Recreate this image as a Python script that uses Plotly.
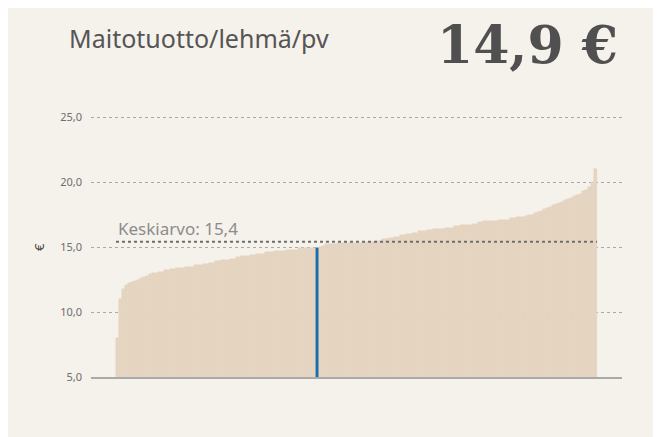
import plotly.graph_objects as go

# maitotuotto / lehmä / päivä, tilat lajiteltuna (€)
values = [
    8.0, 11.0, 11.8, 12.1, 12.2, 12.3, 12.4, 12.5, 12.6, 12.7,
    12.8, 12.9, 13.0, 13.0, 13.1, 13.1, 13.2, 13.2, 13.3, 13.3,
    13.4, 13.4, 13.4, 13.5, 13.5, 13.5, 13.6, 13.6, 13.6, 13.7,
    13.7, 13.8, 13.8, 13.9, 13.9, 14.0, 14.0, 14.0, 14.1, 14.1,
    14.2, 14.2, 14.3, 14.3, 14.3, 14.4, 14.4, 14.5, 14.5, 14.5,
    14.6, 14.6, 14.6, 14.7, 14.7, 14.7, 14.7, 14.8, 14.8, 14.8,
    14.8, 14.9, 14.9, 14.9, 14.9, 14.9, 14.9, 14.9, 15.0, 15.1,
    15.2, 15.2, 15.2, 15.2, 15.3, 15.3, 15.3, 15.3, 15.3, 15.3,
    15.3, 15.3, 15.3, 15.4, 15.4, 15.4, 15.4, 15.5, 15.5, 15.6,
    15.6, 15.7, 15.7, 15.8, 15.8, 15.9, 15.9, 16.0, 16.0, 16.1,
    16.1, 16.2, 16.2, 16.2, 16.3, 16.3, 16.4, 16.4, 16.4, 16.4,
    16.5, 16.5, 16.5, 16.6, 16.6, 16.7, 16.7, 16.7, 16.7, 16.8,
    16.8, 16.9, 16.9, 17.0, 17.0, 17.0, 17.0, 17.0, 17.1, 17.1,
    17.1, 17.1, 17.2, 17.2, 17.3, 17.3, 17.3, 17.4, 17.5, 17.5,
    17.6, 17.7, 17.8, 17.9, 18.0, 18.1, 18.2, 18.3, 18.4, 18.5,
    18.6, 18.7, 18.8, 18.9, 19.0, 19.1, 19.3, 19.4, 19.6, 20.0,
    21.0,
]
own_index = 67          # oma tila
own_value = 14.9
mean_value = 15.4
y_ticks = [5, 10, 15, 20, 25]
y_ticktext = ['5,0', '10,0', '15,0', '20,0', '25,0']

BG = '#f5f1eb'
BAR = '#e4d4c0'
BLUE = '#1b6cab'
GREY = '#6e6e6e'

W, H = 661, 437
L, R, T, B = 83, 47, 96, 68
PW = W - L - R
PH = H - T - B


def px(x):
    return (x - L) / PW


def py(y):
    return 1 - (y - T) / PH


n = len(values)
pad = 25 / 481 * n
colors = [BLUE if i == own_index else BAR for i in range(n)]

fig = go.Figure()
fig.add_trace(go.Bar(
    x=list(range(n)), y=values, marker_color=colors,
    marker_line_color=colors, marker_line_width=0.4,
    hoverinfo='skip',
))

fig.add_shape(type='line', xref='x', yref='y',
              x0=-0.5, x1=n - 0.5, y0=mean_value, y1=mean_value,
              line=dict(color='#6f6f6f', width=2, dash='dot'))

fig.add_annotation(xref='x', yref='y', x=-0.5, y=mean_value,
                   text=f'Keskiarvo: {mean_value:.1f}'.replace('.', ','),
                   showarrow=False, xanchor='left', yanchor='bottom', yshift=0,
                   font=dict(family='Noto Sans', size=17, color='#8c8c8c'))

fig.add_annotation(xref='paper', yref='y', x=px(20), y=15,
                   text='€', textangle=-90, showarrow=False,
                   font=dict(family='Noto Sans', size=13, color='#444'))

fig.add_annotation(xref='paper', yref='paper', x=px(59), y=py(30),
                   text='Maitotuotto/lehmä/pv', showarrow=False,
                   xanchor='left', yanchor='middle',
                   font=dict(family='Noto Sans', size=25, color='#555555'))

fig.add_annotation(xref='paper', yref='paper', x=px(612), y=py(37),
                   text=f'<b>{own_value:.1f} €</b>'.replace('.', ','),
                   showarrow=False, xanchor='right', yanchor='middle',
                   font=dict(family='DejaVu Serif', size=52, color='#505050'))

fig.update_layout(
    width=W, height=H,
    margin=dict(l=L, r=R, t=T, b=B),
    paper_bgcolor=BG, plot_bgcolor=BG,
    bargap=0, showlegend=False,
    xaxis=dict(range=[-0.5 - pad, n - 0.5 + pad], showgrid=False,
               showticklabels=False, zeroline=False,
               showline=True, linecolor='#aaaaaa', linewidth=2),
    yaxis=dict(range=[5, 26], tickvals=y_ticks, ticktext=y_ticktext,
               showgrid=True, gridcolor='#a9a9a9', gridwidth=1,
               griddash='3px,3px', zeroline=False, showline=False,
               ticklabelstandoff=8,
               tickfont=dict(family='Noto Sans', size=11, color=GREY)),
)

fig.write_html('out.html')
